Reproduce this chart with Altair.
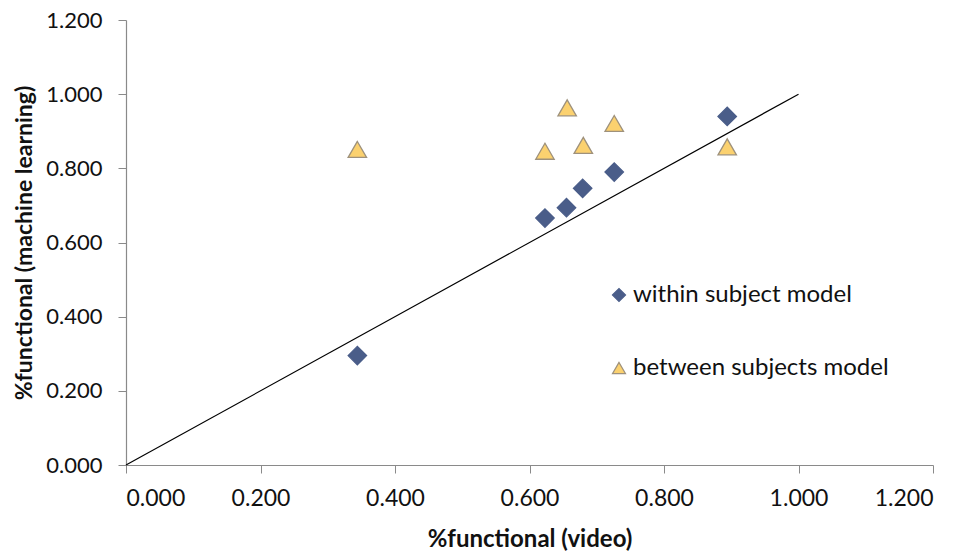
import altair as alt
import pandas as pd

# Data
video_x = [0.344, 0.623, 0.655, 0.679, 0.726, 0.894]
within_y = [0.295, 0.666, 0.694, 0.746, 0.790, 0.940]
between_x = [0.344, 0.623, 0.656, 0.680, 0.726, 0.894]
between_y = [0.851, 0.846, 0.963, 0.862, 0.921, 0.858]
series_names = ["within subject model", "between subjects model"]
diag = [0.0, 1.0]
ticks = [0.0, 0.2, 0.4, 0.6, 0.8, 1.0, 1.2]

rows = []
for x, y in zip(video_x, within_y):
    rows.append({"x": x, "y": y, "series": series_names[0]})
for x, y in zip(between_x, between_y):
    rows.append({"x": x, "y": y, "series": series_names[1]})
pts = pd.DataFrame(rows)
line_df = pd.DataFrame({"x": diag, "y": diag})

xscale = alt.Scale(domain=[0, 1.2], nice=False, zero=True)
yscale = alt.Scale(domain=[0, 1.2], nice=False, zero=True)

xaxis = alt.Axis(values=ticks, format=".3f", title="%functional (video)",
                 labelFont="Lato", labelFontSize=23,
                 labelPadding=14, titleFont="Lato",
                 titleFontSize=24, titleFontWeight="bold", titlePadding=17)
yaxis = alt.Axis(values=ticks, format=".3f", title="%functional (machine learning)",
                 labelFont="Lato", labelFontSize=22, labelPadding=16,
                 titleFont="Lato", titleFontSize=23, titleFontWeight="bold",
                 titlePadding=9)

line = alt.Chart(line_df).mark_line(color="black", strokeWidth=1.2).encode(
    x=alt.X("x:Q", scale=xscale, axis=xaxis),
    y=alt.Y("y:Q", scale=yscale, axis=yaxis),
)

legend = alt.Legend(title=None, orient="none", legendX=481, legendY=263,
                    labelFont="Lato", labelFontSize=24, labelColor="#111",
                    labelLimit=0,
                    symbolSize=170, labelOffset=2, rowPadding=49,
                    symbolStrokeWidth=1.2, symbolOpacity=1, padding=0)

points = alt.Chart(pts).mark_point(filled=True, size=340, opacity=1,
                                   strokeWidth=1.3).encode(
    x=alt.X("x:Q", scale=xscale),
    y=alt.Y("y:Q", scale=yscale),
    fill=alt.Fill("series:N", scale=alt.Scale(domain=series_names,
                                              range=["#4a5d89", "#fbd16f"]),
                  legend=legend),
    stroke=alt.Stroke("series:N", scale=alt.Scale(domain=series_names,
                                                  range=["#4a5d89", "#9e917c"]),
                      legend=legend),
    shape=alt.Shape("series:N", scale=alt.Scale(domain=series_names,
                                                range=["diamond", "triangle-up"]),
                    legend=legend),
)

chart = alt.layer(line, points).properties(
    width=807, height=445,
    autosize=alt.AutoSizeParams(type="none"),
    padding={"left": 118, "top": 12, "right": 24, "bottom": 86},
    background="white",
).configure_axis(
    grid=False, domainColor="#8a8a8a", tickColor="#8a8a8a", tickSize=8,
    labelColor="#111", titleColor="#111", domainWidth=1.2,
).configure_view(stroke=None)

chart.save("out.html", embed_options={"renderer": "svg", "actions": False})
